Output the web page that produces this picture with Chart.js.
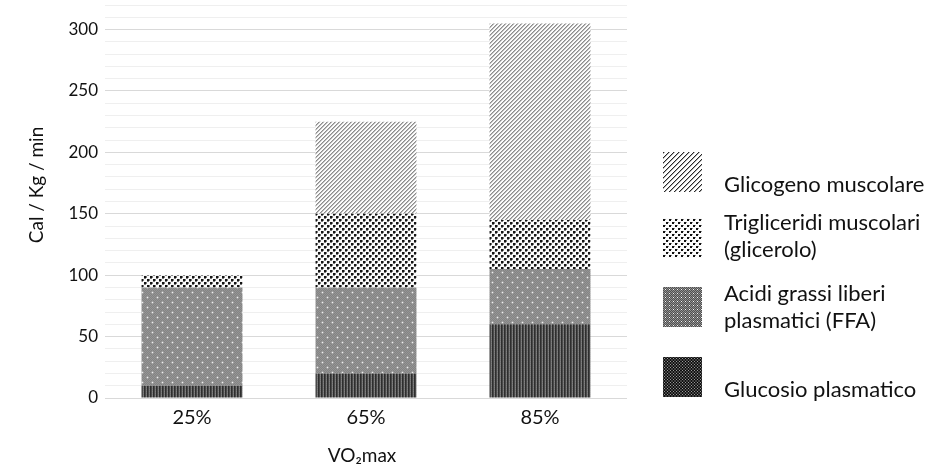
<!DOCTYPE html>
<html>
<head>
<meta charset="utf-8">
<script src="https://cdn.jsdelivr.net/npm/chart.js@4.4.1/dist/chart.umd.min.js"></script>
<style>
  html, body { margin: 0; padding: 0; background: #fff; }
  #wrap { width: 942px; height: 471px; }
</style>
</head>
<body>
<div id="wrap"><canvas id="c" width="942" height="471"></canvas></div>
<script>
// Energy sources by exercise intensity (Cal / Kg / min)
const categories = ['25%', '65%', '85%'];
const glucosio     = [10, 20, 60];
const ffa          = [80, 70, 45];
const trigliceridi = [10, 60, 40];
const glicogeno    = [0, 75, 160];

const seriesNames = {
  glicogeno: ['Glicogeno muscolare'],
  trigliceridi: ['Trigliceridi muscolari', '(glicerolo)'],
  ffa: ['Acidi grassi liberi', 'plasmatici (FFA)'],
  glucosio: ['Glucosio plasmatico']
};
const yAxisTitle = 'Cal / Kg / min';
const xAxisTitle = 'VO\u2082max';

const FONT = 'Lato, "Open Sans", sans-serif';
const INK = '#111111';

// Build a fill pattern from a per-pixel grey function
function makePattern(w, h, fn) {
  const cv = document.createElement('canvas');
  cv.width = w; cv.height = h;
  const cx = cv.getContext('2d');
  const img = cx.createImageData(w, h);
  for (let y = 0; y < h; y++) {
    for (let x = 0; x < w; x++) {
      const v = fn(x, y);
      const i = (y * w + x) * 4;
      img.data[i] = v; img.data[i + 1] = v; img.data[i + 2] = v; img.data[i + 3] = 255;
    }
  }
  cx.putImageData(img, 0, 0);
  return document.getElementById('c').getContext('2d').createPattern(cv, 'repeat');
}

// Bar fills
const patGlicogeno = makePattern(4, 4, (x, y) => {
  const k = (x + y) % 4;
  return k === 0 ? 0x8c : (k === 1 ? 0xbc : 0xfc);
});
const patTrig = makePattern(6, 6, (x, y) => {
  for (const [px, py] of [[0, 0], [3, 3]]) {
    const dx = (x - px + 6) % 6, dy = (y - py + 6) % 6;
    if (dx < 2 && dy < 2) return 0x14;
    if ((dx === 2 && dy < 2) || (dy === 2 && dx < 2)) return 0x78;
  }
  return 0xfa;
});
const patFFA = makePattern(10, 10, (x, y) => {
  if ((x === 2 && y === 2) || (x === 7 && y === 7)) return 0xf0;
  if ((Math.abs(x - 2) + Math.abs(y - 2) === 1) || (Math.abs(x - 7) + Math.abs(y - 7) === 1)) return 0xa8;
  return (x + y) % 2 ? 0x84 : 0x94;
});
const patGlucosio = makePattern(3, 2, (x, y) => {
  return x === 0 ? 0x2e : (x === 1 ? 0x4a : (y ? 0x80 : 0x74));
});

// Legend swatches (finer, darker prints)
const lgGlicogeno = makePattern(5, 5, (x, y) => {
  const k = (x + y) % 5;
  return k === 0 ? 0x28 : (k === 1 ? 0xb0 : 0xff);
});
const lgTrig = makePattern(6, 6, (x, y) => {
  if ((x < 2 && y < 2) || (x >= 3 && x < 5 && y >= 3 && y < 5)) return 0x10;
  if ((x === 2 && y === 0) || (x === 5 && y === 3)) return 0x90;
  return 0xfc;
});
const lgFFA = makePattern(4, 4, (x, y) => {
  if (x === 1 && y === 1) return 0xf4;
  return (x + y) % 2 ? 0x50 : 0x90;
});
const lgGlucosio = makePattern(3, 3, (x, y) => ((x === 1 && y === 1) ? 0x9a : ((x + y) % 2 ? 0x10 : 0x40)));

// Legend entries and axis titles drawn onto the canvas
const decorations = {
  id: 'decorations',
  afterDraw(chart) {
    const ctx = chart.ctx;
    ctx.save();
    ctx.fillStyle = INK;

    // y-axis title
    ctx.font = '19px ' + FONT;
    ctx.textBaseline = 'middle';
    ctx.save();
    ctx.translate(37, 185);
    ctx.rotate(-Math.PI / 2);
    ctx.textAlign = 'center';
    ctx.fillText(yAxisTitle, 0, 0);
    ctx.restore();

    // x-axis title
    ctx.textAlign = 'center';
    ctx.textBaseline = 'alphabetic';
    ctx.fillText(xAxisTitle, 362, 462);

    // legend
    const items = [
      { fill: lgGlicogeno, top: 152, lines: seriesNames.glicogeno, base: [192] },
      { fill: lgTrig, top: 218, lines: seriesNames.trigliceridi, base: [230, 257] },
      { fill: lgFFA, top: 287, lines: seriesNames.ffa, base: [301, 328] },
      { fill: lgGlucosio, top: 357, lines: seriesNames.glucosio, base: [397] }
    ];
    ctx.textAlign = 'left';
    ctx.font = '22px ' + FONT;
    items.forEach(it => {
      ctx.fillStyle = it.fill;
      ctx.fillRect(663, it.top, 39, 40);
      ctx.fillStyle = INK;
      it.lines.forEach((t, i) => ctx.fillText(t, 724, it.base[i]));
    });
    ctx.restore();
  }
};

const ds = (label, data, fill) => ({
  label, data, backgroundColor: fill, borderWidth: 0,
  categoryPercentage: 1, barPercentage: 0.58
});

new Chart(document.getElementById('c'), {
  type: 'bar',
  data: {
    labels: categories,
    datasets: [
      ds(seriesNames.glucosio.join(' '), glucosio, patGlucosio),
      ds(seriesNames.ffa.join(' '), ffa, patFFA),
      ds(seriesNames.trigliceridi.join(' '), trigliceridi, patTrig),
      ds(seriesNames.glicogeno.join(' '), glicogeno, patGlicogeno)
    ]
  },
  options: {
    responsive: false,
    animation: false,
    layout: { padding: { top: 5, right: 315, left: 0, bottom: 0 } },
    plugins: { legend: { display: false }, tooltip: { enabled: false } },
    scales: {
      x: {
        stacked: true,
        grid: { display: false, drawTicks: false },
        border: { display: false },
        ticks: { color: INK, font: { family: FONT, size: 20 }, padding: 8 },
        afterFit(s) { s.height = 73; s.paddingLeft = 0; s.paddingRight = 0; }
      },
      y: {
        stacked: true,
        min: 0, max: 320,
        grid: {
          drawTicks: false,
          color: ctx => (ctx.tick && ctx.tick.value % 50 === 0 ? '#d9d9d9' : '#efefef')
        },
        border: { display: false },
        ticks: {
          stepSize: 10,
          autoSkip: false,
          padding: 7,
          color: INK,
          font: { family: FONT, size: 17 },
          callback: v => (v % 50 === 0 && v <= 300 ? v : '')
        },
        afterFit(s) { s.width = 105; s.paddingTop = 0; s.paddingBottom = 0; }
      }
    }
  },
  plugins: [decorations]
});
</script>
</body>
</html>
